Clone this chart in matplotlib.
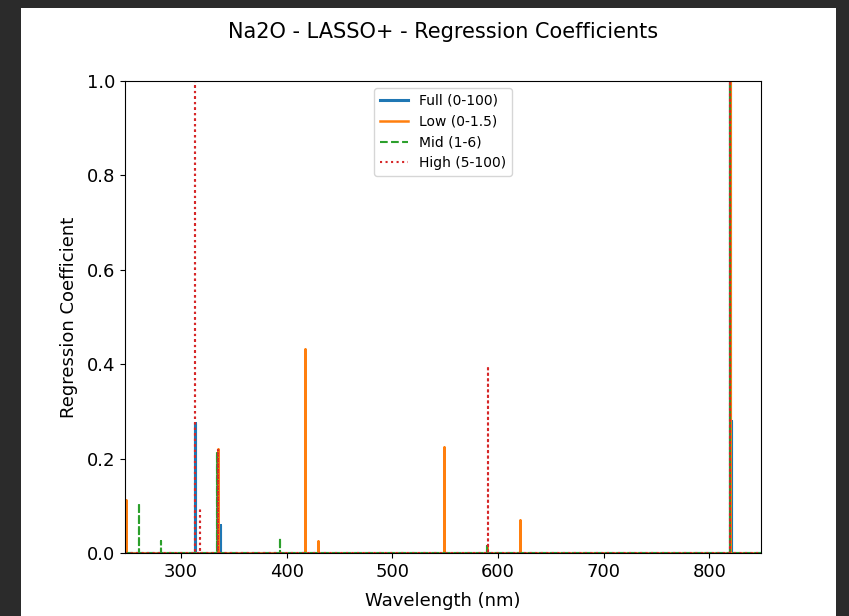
import matplotlib.pyplot as plt
from matplotlib.patches import Rectangle

# wavelength range of the spectrum (nm)
wl_min, wl_max = 247, 849

# nonzero coefficients per model: wavelengths and values
full_wl = [313, 337, 820, 821]
full_coef = [0.275, 0.06, 1.0, 0.28]

low_wl = [248, 335, 417, 430, 549, 590, 621, 820]
low_coef = [0.112, 0.22, 0.432, 0.025, 0.225, 0.015, 0.07, 1.0]

mid_wl = [260, 281, 334, 394, 590, 820]
mid_coef = [0.106, 0.025, 0.215, 0.032, 0.015, 1.0]

high_wl = [313, 318, 335, 590.5, 820]
high_coef = [1.0, 0.095, 0.22, 0.396, 1.0]

labels = ['Full (0-100)', 'Low (0-1.5)', 'Mid (1-6)', 'High (5-100)']


def spikes(wl, coef):
    # baseline at zero with a vertical spike at each wavelength
    xs, ys = [wl_min], [0.0]
    for w, c in sorted(zip(wl, coef)):
        xs += [w, w, w]
        ys += [0.0, c, 0.0]
    xs.append(wl_max)
    ys.append(0.0)
    return xs, ys


fig = plt.figure(figsize=(8.49, 6.16), dpi=100)
fig.patch.set_facecolor('#2b2b2b')
fig.patches.append(Rectangle((21 / 849, 0), 815 / 849, 608 / 616,
                             transform=fig.transFigure, facecolor='white',
                             edgecolor='none', zorder=-10))
ax = fig.add_axes([125 / 849, 63 / 616, 636 / 849, 472 / 616])

ax.plot(*spikes(full_wl, full_coef), color='C0', lw=2.2, label=labels[0])
ax.plot(*spikes(low_wl, low_coef), color='C1', lw=1.8, label=labels[1])
ax.plot(*spikes(mid_wl, mid_coef), color='C2', lw=1.5, ls='--', label=labels[2])
ax.plot(*spikes(high_wl, high_coef), color='C3', lw=1.5, ls=':', label=labels[3])

ax.set_xlim(wl_min, wl_max)
ax.set_ylim(0, 1.0)
ax.tick_params(labelsize=13)
ax.set_xlabel('Wavelength (nm)', fontsize=13, labelpad=8)
ax.set_ylabel('Regression Coefficient', fontsize=13, labelpad=6)
ax.set_title('Na2O - LASSO+ - Regression Coefficients', fontsize=15, pad=31)
ax.legend(loc='upper center', fontsize=10)

fig.savefig('out.png', dpi=100, facecolor=fig.get_facecolor())
